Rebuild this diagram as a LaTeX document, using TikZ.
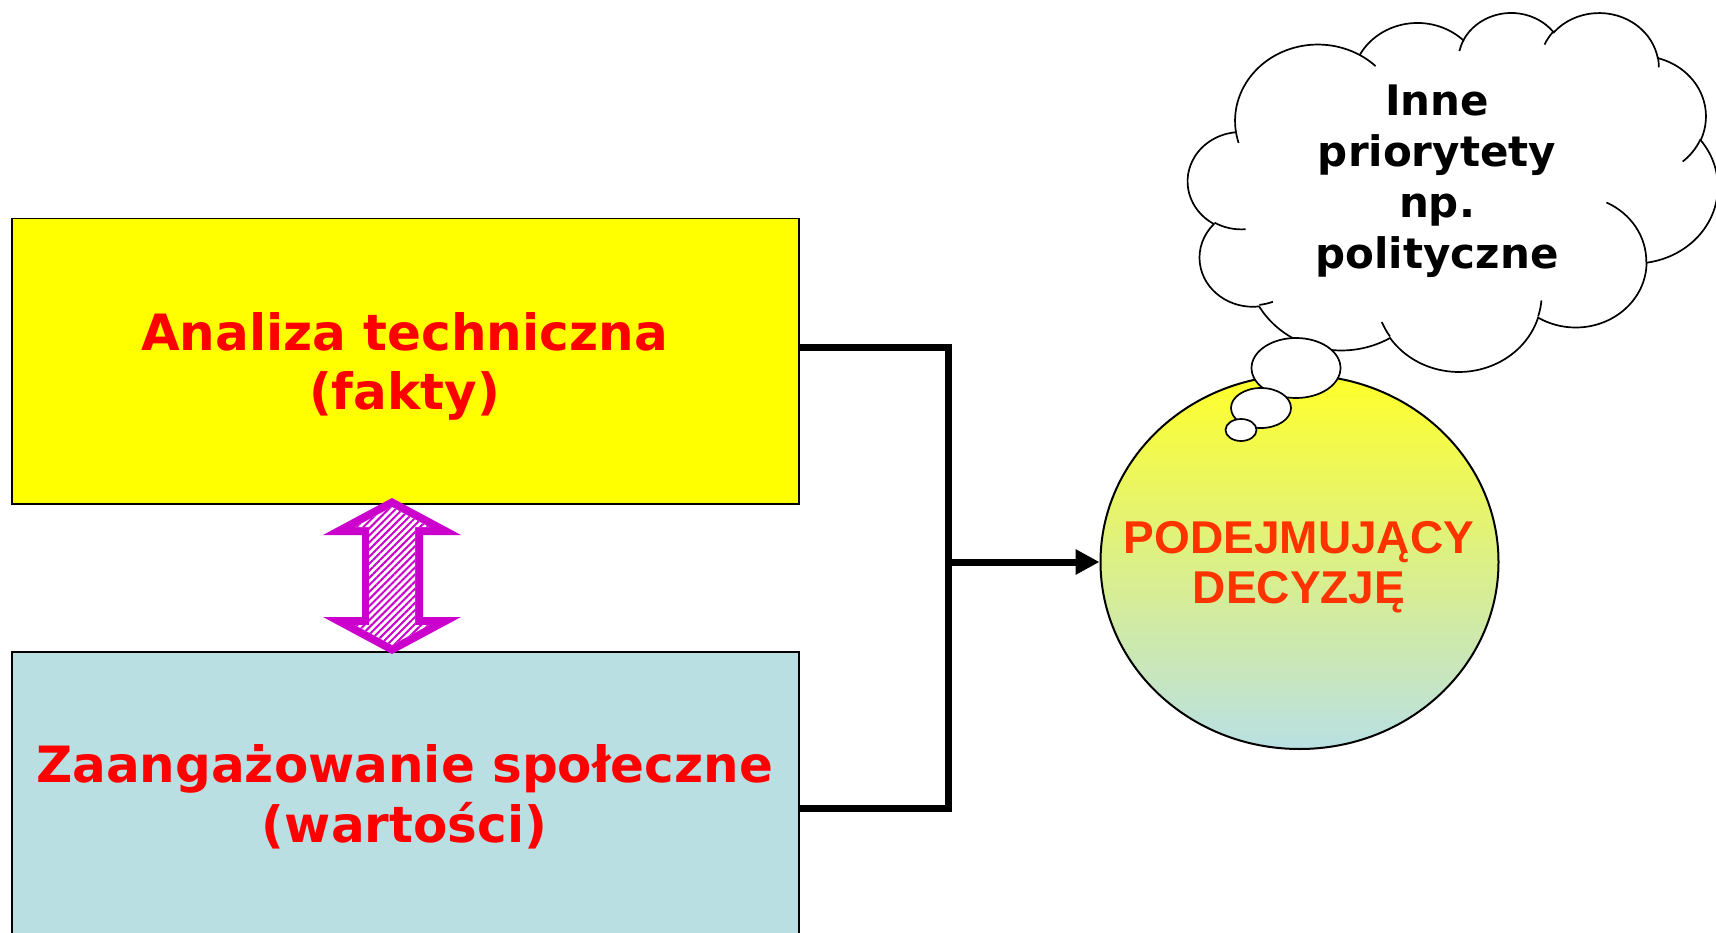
\documentclass[tikz,border=0pt]{standalone}
\usepackage{fontspec}
\newfontfamily\dv{DejaVu Sans}
\newfontfamily\lib{Liberation Sans}
\usetikzlibrary{arrows.meta,shapes.geometric,patterns.meta}
\definecolor{boxy}{HTML}{FFFF00}
\definecolor{boxb}{HTML}{B9DFE2}
\definecolor{txtred}{HTML}{FF0000}
\definecolor{txtor}{HTML}{FF3300}
\definecolor{mag}{HTML}{CC00CC}
\definecolor{shy}{HTML}{FFFF2A}
\definecolor{shb}{HTML}{B9E0E3}
\begin{document}
\begin{tikzpicture}[x=1pt,y=-1pt,
  box/.style={draw=black, line width=1.5pt, minimum width=787pt, inner sep=0pt, anchor=north west},
  boxtxt/.style={font=\dv\bfseries\fontsize{50}{60}\selectfont, text=txtred, inner sep=0pt, anchor=base},
  cloudtxt/.style={font=\dv\bfseries\fontsize{42}{51}\selectfont, text=black, inner sep=0pt, anchor=base},
  dectxt/.style={font=\lib\bfseries\fontsize{46}{50}\selectfont, text=txtor, inner sep=0pt, anchor=base},
  conn/.style={line width=7pt, line join=miter, draw=black},
  cloudline/.style={draw=black, line width=1.7pt},
  carc/.style n args={4}{insert path={arc[x radius=#1, y radius=#2,
     start angle={atan2(#1*sin(#3),#2*cos(#3))},
     delta angle={mod(atan2(#1*sin(#3+#4),#2*cos(#3+#4))-atan2(#1*sin(#3),#2*cos(#3))+720,360)}]}}
]
\useasboundingbox (0,0) rectangle (1716,933);
\clip (0,0) rectangle (1716,933);
\fill[white] (0,0) rectangle (1716,933);

% boxes
\node[box, fill=boxy, minimum height=285pt] (yb) at (11,218) {};
\node[box, fill=boxb, minimum height=287pt] (bb) at (11,651) {};
\node[boxtxt] (t1) at (404.5,350.5) {Analiza techniczna};
\node[boxtxt] (t2) at (404.5,409.5) {(fakty)};
\node[boxtxt] (t3) at (404.5,782.6) {Zaangażowanie społeczne};
\node[boxtxt] (t4) at (404.5,842.7) {(wartości)};

% double block arrow
\fill[mag] (392,498) -- (461,535) -- (423,535) -- (423,617) -- (461,617) -- (392,654)
  -- (323,617) -- (362,617) -- (362,535) -- (323,535) -- cycle;
\fill[white] (392,507) -- (429,527) -- (415,527) -- (415,625) -- (429,625) -- (392,645)
  -- (355,625) -- (369,625) -- (369,527) -- (355,527) -- cycle;
\fill[pattern={Lines[angle=45,distance=5pt,line width=2pt]}, pattern color=mag]
  (392,507) -- (429,527) -- (415,527) -- (415,625) -- (429,625) -- (392,645)
  -- (355,625) -- (369,625) -- (369,527) -- (355,527) -- cycle;

% decision maker
\node[ellipse, draw=black, line width=2pt, minimum width=398pt, minimum height=374pt,
  inner sep=0pt, top color=shy, bottom color=shb] (dm) at (1299.5,562) {};
\node[dectxt] (d1) at (1299,553) {PODEJMUJĄCY};
\node[dectxt] (d2) at (1299,603) {DECYZJĘ};

% connectors
\coordinate (jx) at (948.5,562);
\draw[conn] ([yshift=14pt]yb.east) -| (jx) |- ([yshift=-13.5pt]bb.east);
\draw[conn, -{Triangle[length=24pt,width=24pt]}] (jx) -- (dm.west);

% cloud
\begin{scope}[shift={(1188,11.8)}, x=1.226pt, y=-0.8307pt]
\draw[cloudline, fill=white] (39.00,143.70)
  [carc={67.53}{91.90}{-190.4875}{123.7805}]
  [carc={53.33}{72.67}{-144.1024}{89.9452}]
  [carc={43.65}{59.45}{-145.8079}{99.7230}]
  [carc={48.57}{65.95}{-130.9861}{117.2417}]
  [carc={53.33}{72.73}{-78.7089}{109.0269}]
  [carc={67.75}{92.20}{-46.2673}{130.2690}]
  [carc={57.85}{78.67}{0.6250}{114.0333}]
  [carc={67.52}{92.15}{22.4516}{115.1726}]
  [carc={77.20}{105.43}{66.2426}{75.7110}]
  [carc={43.60}{59.18}{-274.9421}{146.7356}]
  [carc={43.45}{59.45}{-246.8285}{152.5234}] -- cycle;
\draw[cloudline] (46.93,261.77) [carc={43.45}{59.45}{86.7420}{26.4295}];
\draw[cloudline] (69.28,348.99) [carc={43.60}{59.18}{73.6105}{11.4475}];
\draw[cloudline] (164.78,390.90) [carc={67.52}{92.15}{137.6242}{14.0811}];
\draw[cloudline] (288.27,347.51) [carc={67.52}{92.15}{6.4533}{15.9984}];
\draw[cloudline] (341.29,229.54) [carc={57.85}{78.67}{-70.2924}{70.9174}];
\draw[cloudline] (417.98,153.54) [carc={53.33}{72.73}{30.3180}{27.7515}];
\draw[cloudline] (383.24,54.26) [carc={48.57}{65.95}{-13.7443}{14.8589}];
\draw[cloudline] (290.78,39.52) [carc={48.57}{65.95}{-149.1815}{18.1954}];
\draw[cloudline] (221.41,47.20) [carc={43.65}{59.45}{-163.4943}{17.6864}];
\draw[cloudline] (140.00,51.92) [carc={67.53}{91.90}{-66.7070}{12.3194}];
\draw[cloudline] (41.27,157.89) [carc={67.53}{91.90}{157.6544}{11.8582}];
\end{scope}

% thought bubbles
\draw[cloudline, fill=white] (1296,368) ellipse [x radius=44.5, y radius=30];
\draw[cloudline, fill=white] (1261,408) ellipse [x radius=30, y radius=20];
\draw[cloudline, fill=white] (1241,430) ellipse [x radius=15.5, y radius=11];

% cloud text
\node[cloudtxt] (c1) at (1437,116) {Inne};
\node[cloudtxt] (c2) at (1437,167) {priorytety};
\node[cloudtxt] (c3) at (1437,218) {np.};
\node[cloudtxt] (c4) at (1437,269) {polityczne};
\end{tikzpicture}
\end{document}
